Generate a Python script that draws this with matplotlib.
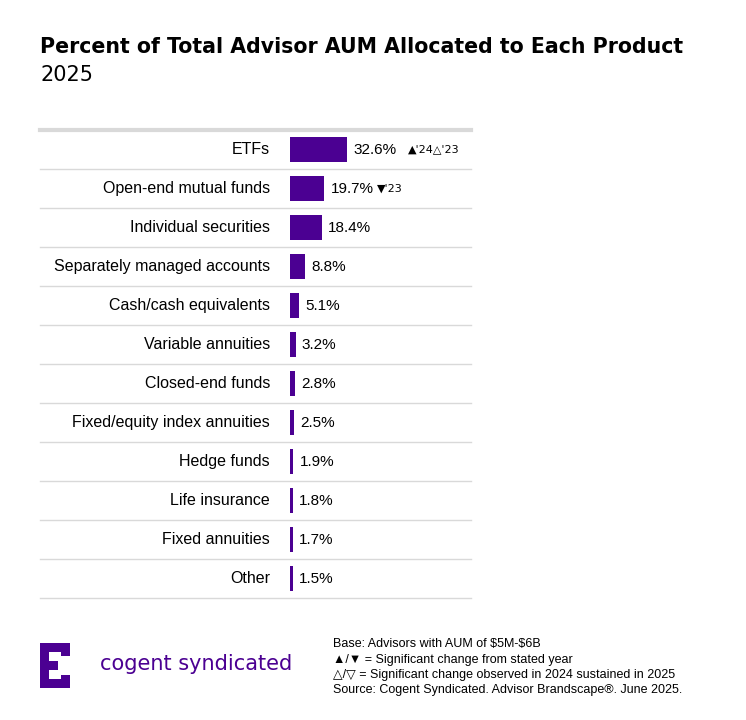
import matplotlib.pyplot as plt
import matplotlib.transforms as mtransforms
from matplotlib.patches import Rectangle

categories = ["ETFs", "Open-end mutual funds", "Individual securities",
              "Separately managed accounts", "Cash/cash equivalents",
              "Variable annuities", "Closed-end funds",
              "Fixed/equity index annuities", "Hedge funds", "Life insurance",
              "Fixed annuities", "Other"]
values = [32.6, 19.7, 18.4, 8.8, 5.1, 3.2, 2.8, 2.5, 1.9, 1.8, 1.7, 1.5]
markers = ["\u25b2'24\u25b3'23", "\u25bc'23", "", "", "", "", "", "", "", "", "", ""]

PURPLE = "#4b0092"
W, H = 746, 720
plt.rcParams["font.family"] = "Liberation Sans"
fig = plt.figure(figsize=(W / 100, H / 100), dpi=100)


def fx(px):
    return px / W


def fy(py):
    return 1 - py / H


top, bottom = 130, 598
ax = fig.add_axes([fx(290), fy(bottom), fx(471) - fx(290), (bottom - top) / H])
ax.set_xlim(0, 181 / 1.75)
n = len(categories)
ax.set_ylim(n - 0.5, -0.5)
ypos = list(range(n))
ax.barh(ypos, values, height=0.62, color=PURPLE)
ax.axis("off")

trans = mtransforms.blended_transform_factory(fig.transFigure, ax.transData)
for i, (c, v, m) in enumerate(zip(categories, values, markers)):
    fig.text(fx(270), i, c, transform=trans, ha="right", va="center", fontsize=11.5)
    ax.text(v + 3.5, i, f"{v}%", ha="left", va="center", fontsize=11)
    if m:
        off = 35 if i == 0 else 30
        ax.text(v + off, i, m, ha="left", va="center", fontsize=8,
                family="DejaVu Sans")
for k in range(n + 1):
    yv = k - 0.5
    lw = 3 if k == 0 else 1
    ax.plot([fx(40), fx(471)], [yv, yv], transform=trans, color="#d9d9d9", lw=lw,
            clip_on=False)

fig.text(fx(40), fy(47), "Percent of Total Advisor AUM Allocated to Each Product",
         fontsize=14.8, fontweight="bold", va="center", family="DejaVu Sans")
fig.text(fx(40), fy(75), "2025", fontsize=15, va="center", family="DejaVu Sans")

# logo
for (x0, y0, w, h) in [(40, 643, 30, 9), (40, 643, 9, 45), (40, 679, 30, 9),
                       (40, 661, 18, 9), (61, 652, 9, 4), (61, 675, 9, 4)]:
    fig.add_artist(Rectangle((fx(x0), fy(y0 + h)), w / W, h / H,
                             transform=fig.transFigure, color=PURPLE, lw=0))
fig.text(fx(100), fy(664), "cogent syndicated", color=PURPLE, fontsize=15,
         va="center", family="DejaVu Sans")

notes = ["Base: Advisors with AUM of \\$5M-\\$6B",
         "\u25b2/\u25bc = Significant change from stated year",
         "\u25b3/\u25bd = Significant change observed in 2024 sustained in 2025",
         "Source: Cogent Syndicated. Advisor Brandscape\u00ae. June 2025."]
for i, t in enumerate(notes):
    fig.text(fx(333), fy(644 + 15.5 * i), t, fontsize=9, va="center",
             family=["Liberation Sans", "DejaVu Sans"])

fig.savefig("out.png", dpi=100)
